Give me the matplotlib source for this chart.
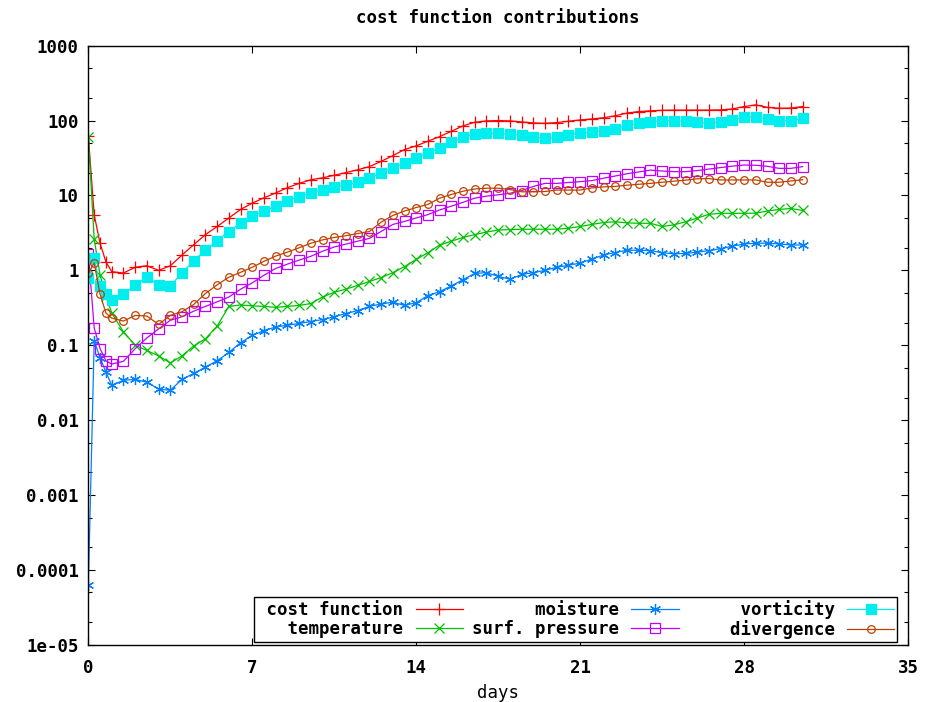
import numpy as np
import matplotlib
matplotlib.use("Agg")
import matplotlib.pyplot as plt
from matplotlib.ticker import FixedLocator, FixedFormatter, LogLocator, NullFormatter

plt.rcParams['font.family'] = 'DejaVu Sans Mono'
plt.rcParams['font.weight'] = 'bold'
plt.rcParams['font.size'] = 12.5

# analysis times (days): 6-hourly during the first day, then every 12 h
days = [0, 0.25, 0.5, 0.75] + list(np.arange(1.0, 30.75, 0.5))

cost_function = [62, 5.5, 2.3, 1.3, 0.96, 0.92, 1.1, 1.15, 1.0, 1.15,
                 1.6, 2.2, 3.0, 3.85, 5.0, 6.5, 7.9, 9.3, 10.8, 12.7,
                 14.5, 16.2, 17.2, 18.6, 20.2, 22, 24.3, 28.5, 34, 41,
                 46, 53, 61, 72, 85, 95, 99, 100, 99, 96,
                 93, 92, 94, 98, 102, 105, 109, 116, 126, 132,
                 135, 137, 138, 138, 138, 138, 139, 143, 154, 162,
                 150, 146, 147, 154]
temperature = [60, 2.6, 0.87, 0.45, 0.27, 0.15, 0.1, 0.085, 0.072, 0.058,
               0.072, 0.098, 0.122, 0.18, 0.33, 0.345, 0.335, 0.33, 0.32, 0.33,
               0.34, 0.36, 0.44, 0.51, 0.56, 0.63, 0.71, 0.8, 0.93, 1.12,
               1.4, 1.72, 2.18, 2.45, 2.75, 3.0, 3.25, 3.45, 3.5, 3.54,
               3.54, 3.54, 3.54, 3.65, 3.85, 4.1, 4.35, 4.45, 4.3, 4.25,
               4.25, 3.85, 4.05, 4.45, 5.0, 5.6, 5.78, 5.78, 5.78, 5.8,
               6.2, 6.5, 6.7, 6.3]
moisture = [6.3e-5, 0.115, 0.068, 0.044, 0.029, 0.034, 0.035, 0.032, 0.026, 0.025,
            0.035, 0.042, 0.051, 0.062, 0.08, 0.108, 0.135, 0.157, 0.175, 0.185,
            0.195, 0.207, 0.22, 0.24, 0.265, 0.29, 0.33, 0.355, 0.375, 0.34,
            0.37, 0.46, 0.52, 0.62, 0.75, 0.91, 0.93, 0.83, 0.76, 0.88,
            0.93, 1.0, 1.1, 1.17, 1.25, 1.42, 1.6, 1.73, 1.86, 1.85,
            1.83, 1.72, 1.66, 1.68, 1.75, 1.83, 1.95, 2.1, 2.25, 2.3,
            2.3, 2.25, 2.18, 2.18]
surf_pressure = [1.66, 0.17, 0.09, 0.062, 0.056, 0.061, 0.09, 0.125, 0.165, 0.215,
                 0.24, 0.285, 0.33, 0.38, 0.44, 0.56, 0.68, 0.86, 1.06, 1.21,
                 1.37, 1.54, 1.8, 2.05, 2.24, 2.45, 2.67, 3.3, 4.1, 4.5,
                 5.0, 5.55, 6.4, 7.2, 8.1, 9.2, 9.8, 10.2, 10.7, 11.6,
                 13.2, 14.5, 14.5, 14.9, 15.3, 15.8, 17.0, 18.2, 19.5, 20.6,
                 21.8, 21.2, 20.8, 20.8, 21.5, 22.5, 23.6, 24.6, 25.5, 25.3,
                 24.5, 23.0, 23.0, 24.3]
vorticity = [0.8, 1.45, 0.62, 0.48, 0.40, 0.48, 0.63, 0.82, 0.63, 0.62,
             0.92, 1.35, 1.85, 2.5, 3.3, 4.3, 5.3, 6.2, 7.2, 8.5,
             9.6, 10.8, 11.9, 12.9, 13.6, 15.0, 17.0, 20.0, 23.5, 27.0,
             32, 37, 42.6, 51, 60, 66, 68, 67.5, 66, 63.5,
             60, 58, 60, 63.5, 67.5, 71, 73, 78, 86, 92,
             97, 99, 100, 98, 95, 92, 95, 102, 112, 112,
             104, 100, 100, 107]
divergence = [0.91, 1.25, 0.48, 0.27, 0.23, 0.21, 0.25, 0.245, 0.19, 0.25,
              0.28, 0.35, 0.49, 0.64, 0.81, 0.94, 1.1, 1.32, 1.55, 1.75,
              2.0, 2.3, 2.55, 2.75, 2.9, 3.1, 3.3, 4.4, 5.4, 6.2,
              6.9, 7.6, 9.2, 10.3, 11.4, 12.2, 12.5, 12.5, 12.0, 11.2,
              11.2, 11.3, 11.8, 11.8, 11.8, 12.6, 13.0, 13.2, 13.7, 14.1,
              14.5, 15.0, 15.5, 16.0, 16.7, 16.8, 16.1, 16.1, 16.1, 16.1,
              15.0, 15.0, 15.6, 16.2]

x_ticks = [0, 7, 14, 21, 28, 35]
y_ticks = [1e-5, 1e-4, 1e-3, 1e-2, 1e-1, 1, 10, 100, 1000]
y_ticklabels = ['1e-05', '0.0001', '0.001', '0.01', '0.1', '1', '10', '100', '1000']

series = [
    ('cost function', cost_function, '#ff0000', dict(marker='+', ms=8)),
    ('temperature', temperature, '#00c000', dict(marker='x', ms=7)),
    ('moisture', moisture, '#0080ff', dict(marker=(6, 2, 0), ms=8)),
    ('surf. pressure', surf_pressure, '#c000ff', dict(marker='s', ms=6.5, mfc='none')),
    ('vorticity', vorticity, '#00eeee', dict(marker='s', ms=7)),
    ('divergence', divergence, '#c04000', dict(marker='o', ms=5.5, mfc='none')),
]

fig = plt.figure(figsize=(9.26, 7.02), dpi=100)
ax = fig.add_axes([0.0954, 0.0816, 0.8852, 0.8533])

for label, values, color, mk in series:
    # right-align key text like gnuplot (monospace font, fixed field width)
    ax.plot(days, values, color=color, lw=0.9, mew=0.9, label=label.rjust(14), **mk)

ax.set_yscale('log')
ax.set_xlim(0, 35)
ax.set_ylim(1e-5, 1000)
ax.xaxis.set_major_locator(FixedLocator(x_ticks))
ax.yaxis.set_major_locator(FixedLocator(y_ticks))
ax.yaxis.set_major_formatter(FixedFormatter(y_ticklabels))
ax.yaxis.set_minor_locator(LogLocator(base=10, subs=(2.0, 5.0)))
ax.yaxis.set_minor_formatter(NullFormatter())
ax.tick_params(which='both', direction='in', top=True, right=True, width=0.8)
ax.tick_params(which='major', length=5)
ax.tick_params(which='minor', length=3)
ax.tick_params(axis='x', pad=10)
ax.tick_params(axis='y', pad=7)
for s in ax.spines.values():
    s.set_linewidth(1.0)

ax.set_xlabel('days', labelpad=5)
fig.text(0.537, 0.975, 'cost function contributions', ha='center', va='center')

leg = ax.legend(loc='lower right', bbox_to_anchor=(0.9866, 0.0045), ncol=3,
                markerfirst=False, handlelength=2.75, columnspacing=0.5,
                borderaxespad=0, fancybox=False, framealpha=1,
                edgecolor='black', borderpad=0.15, labelspacing=0.1,
                handletextpad=0.7)
leg.get_frame().set_linewidth(1.0)

fig.savefig('out.png', dpi=100)
